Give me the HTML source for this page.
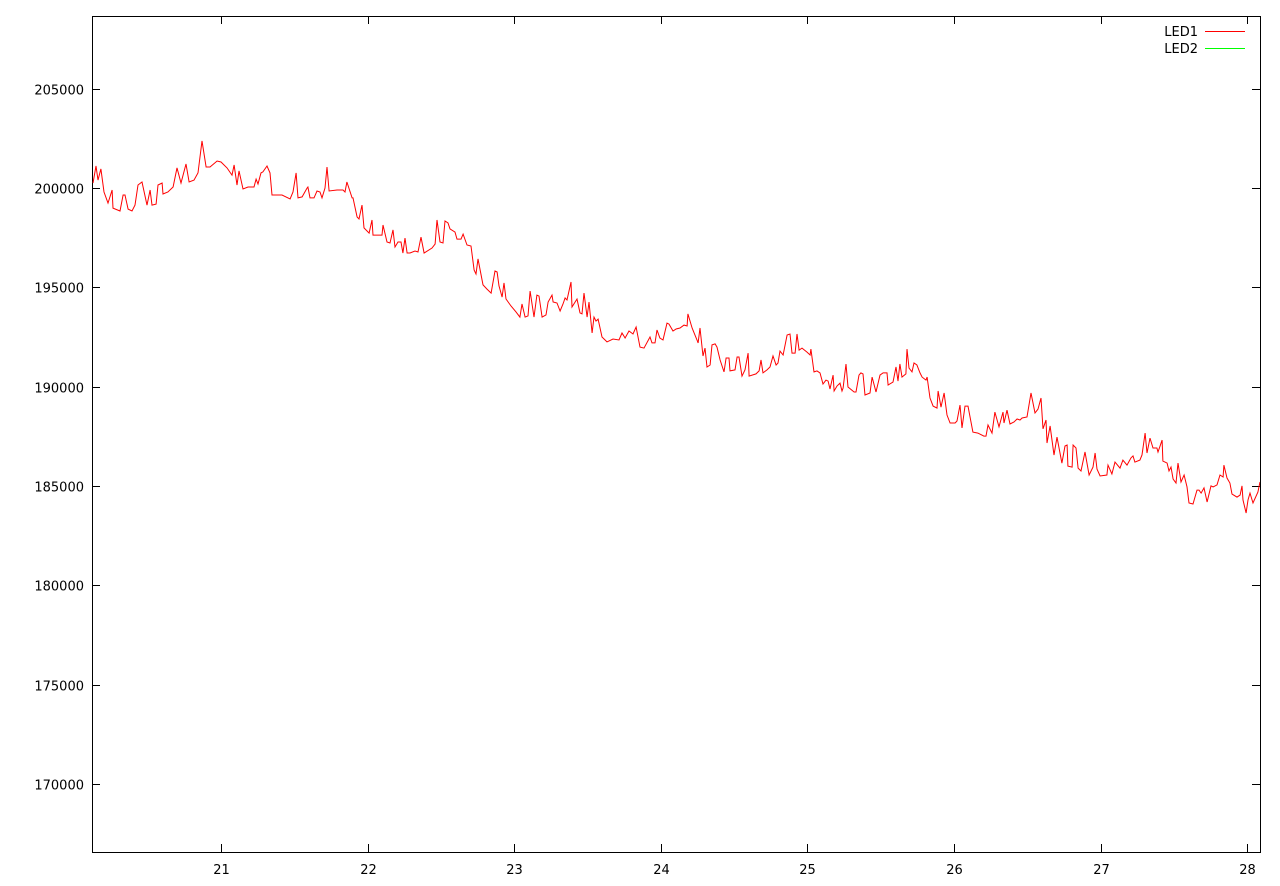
<!DOCTYPE html>
<html><head><meta charset="utf-8"><style>
html,body{margin:0;padding:0;background:#fff;}
svg{display:block;font-family:"DejaVu Sans","Liberation Sans",sans-serif;font-size:13px;}
</style></head><body>
<svg id="chart" width="1280" height="886" viewBox="0 0 1280 886" xmlns="http://www.w3.org/2000/svg">
<defs><clipPath id="clip"><rect x="92" y="16" width="1168" height="836"/></clipPath></defs>
<rect x="92.5" y="16.5" width="1168" height="836" fill="none" stroke="#000" stroke-width="1"/>
<g id="axes"></g>
<g id="series" clip-path="url(#clip)"></g>
<g>
<text x="1198" y="36" text-anchor="end">LED1</text>
<line x1="1205" y1="31.5" x2="1245" y2="31.5" stroke="#ff0000" stroke-width="1"/>
<text x="1198" y="53" text-anchor="end">LED2</text>
<line x1="1205" y1="48.5" x2="1245" y2="48.5" stroke="#00ff00" stroke-width="1"/>
</g>
</svg>
<script>
const xTicks = [21,22,23,24,25,26,27,28];
const yTicks = [170000,175000,180000,185000,190000,195000,200000,205000];
const led1Days = [20.127,20.147,20.161,20.181,20.202,20.229,20.257,20.263,20.311,20.332,20.345,20.366,20.393,20.413,20.434,20.461,20.495,20.516,20.529,20.557,20.570,20.598,20.604,20.638,20.673,20.700,20.727,20.761,20.782,20.816,20.843,20.870,20.898,20.925,20.973,21.000,21.041,21.075,21.089,21.109,21.123,21.150,21.184,21.225,21.239,21.252,21.273,21.286,21.314,21.334,21.348,21.416,21.471,21.491,21.512,21.525,21.553,21.587,21.593,21.607,21.634,21.655,21.675,21.689,21.709,21.723,21.737,21.791,21.832,21.846,21.859,21.894,21.900,21.928,21.941,21.962,21.975,22.010,22.030,22.037,22.098,22.105,
22.132,22.153,22.173,22.187,22.207,22.228,22.241,22.255,22.269,22.289,22.323,22.344,22.364,22.385,22.439,22.460,22.473,22.494,22.514,22.528,22.548,22.562,22.596,22.610,22.637,22.651,22.678,22.705,22.726,22.739,22.753,22.787,22.814,22.842,22.869,22.883,22.896,22.917,22.930,22.944,22.978,23.012,23.039,23.053,23.074,23.094,23.108,23.135,23.155,23.169,23.190,23.217,23.231,23.258,23.265,23.292,23.313,23.333,23.347,23.360,23.387,23.394,23.428,23.449,23.462,23.476,23.497,23.510,23.531,23.544,23.558,23.572,23.599,23.633,23.674,23.715,23.735,23.756,23.783,23.810,23.831,23.858,23.885,23.926,23.940,23.960,23.974,23.994,24.015,24.042,24.056,24.083,
24.104,24.131,24.158,24.179,24.185,24.213,24.247,24.254,24.267,24.288,24.301,24.315,24.336,24.349,24.370,24.383,24.404,24.431,24.445,24.465,24.472,24.506,24.520,24.533,24.554,24.574,24.595,24.602,24.649,24.670,24.683,24.697,24.724,24.745,24.765,24.786,24.799,24.813,24.834,24.861,24.881,24.895,24.916,24.929,24.943,24.963,24.997,25.018,25.024,25.045,25.065,25.086,25.106,25.127,25.141,25.154,25.175,25.182,25.202,25.222,25.236,25.243,25.263,25.277,25.318,25.331,25.352,25.365,25.379,25.393,25.427,25.441,25.468,25.495,25.516,25.543,25.550,25.584,25.604,25.618,25.631,25.645,25.672,25.679,25.693,25.713,25.727,25.747,25.768,25.782,25.809,25.816,25.836,25.857,25.884,25.891,25.911,25.932,25.952,25.973,26.007,26.020,
26.041,26.054,26.075,26.095,26.129,26.163,26.204,26.218,26.232,26.259,26.279,26.307,26.334,26.341,26.361,26.382,26.409,26.430,26.450,26.464,26.498,26.525,26.552,26.573,26.593,26.607,26.627,26.634,26.655,26.682,26.702,26.736,26.757,26.771,26.777,26.805,26.812,26.832,26.846,26.866,26.893,26.921,26.948,26.962,26.975,26.996,27.043,27.050,27.077,27.098,27.132,27.152,27.180,27.207,27.221,27.234,27.268,27.282,27.303,27.316,27.337,27.357,27.384,27.391,27.419,27.425,27.453,27.466,27.480,27.494,27.514,27.528,27.548,27.569,27.589,27.603,27.630,27.657,27.671,27.685,27.705,27.726,27.753,27.767,27.794,27.814,27.835,27.841,27.862,27.882,27.896,27.930,27.951,27.964,27.971,27.992,28.005,28.019,28.039,28.073,28.087];
const led1Values = [200250,201110,200400,200960,199800,199240,199900,198990,198840,199650,199650,198940,198840,199140,200150,200300,199140,199900,199140,199190,200150,200250,199700,199800,200050,201010,200250,201210,200300,200400,200760,202370,201060,201060,201360,201310,201010,200650,201160,200150,200860,199950,200050,200050,200450,200200,200760,200810,201110,200760,199650,199650,199450,199800,200760,199500,199550,200000,200050,199500,199500,199850,199800,199500,200000,201060,199850,199900,199900,199800,200300,199500,199500,198540,198440,199140,197990,197730,198390,197630,197630,198140,
197280,197230,197890,197030,197280,197280,196730,197480,196730,196730,196830,196780,197530,196730,196980,197180,198390,197280,197230,198340,198240,197940,197780,197430,197430,197680,197130,197080,195870,195670,196430,195120,194910,194710,195820,195770,195070,194510,195220,194410,194060,193760,193500,194160,193500,193560,194810,193500,194610,194560,193500,193610,194260,194610,194260,194210,193810,194160,194460,194360,195270,194010,194410,193710,193660,194710,193500,194260,192700,193500,193300,193400,192500,192250,192400,192350,192700,192450,192800,192650,193000,191990,191940,192500,192200,192200,192850,192450,192350,193200,193150,192800,
192900,192950,193100,193050,193660,192950,192350,192200,192950,191540,191940,190990,191090,192100,192150,191990,191340,190740,191440,191440,190790,190840,191490,191490,190530,190840,191690,190530,190640,190790,191340,190690,190840,190990,191540,191090,191190,191790,191590,192600,192650,191690,191690,192650,191840,191940,191740,191590,191890,190740,190790,190690,190130,190330,190280,189880,190580,189780,190030,190180,189780,189930,191140,189980,189730,189730,190580,190690,190640,189580,189680,190480,189730,190580,190690,190690,190080,190230,190990,190280,191140,190480,190640,191890,190940,190740,191190,191090,190690,190480,190330,190480,189430,189020,188920,189780,188970,189680,188570,188170,188170,188270,
189070,187920,189020,189020,187710,187660,187510,187510,188070,187660,188720,187970,188720,188170,188820,188120,188220,188370,188320,188420,188470,189680,188670,188870,189430,187870,188320,187160,188020,186560,187460,186150,187010,187060,186000,185950,187060,186910,185900,185750,186710,185550,185950,186660,185850,185500,185550,186050,185600,186200,185900,186300,186050,186410,186510,186200,186300,186560,187660,186660,187410,186910,186910,186710,187310,186250,186150,185750,185950,185350,185150,186150,185200,185550,184950,184140,184090,184790,184790,184640,184900,184190,185000,184950,185050,185550,185450,186050,185400,185150,184590,184440,184540,185000,184290,183640,184290,184640,184140,184690,185200];

const X0=92, X1=1260, Y0=852, Y1=16;
const xMin=20.120, xMax=28.087, yMin=166570, yMax=208660;
function xs(v){return X0+(v-xMin)/(xMax-xMin)*(X1-X0);}
function ys(v){return Y0-(v-yMin)/(yMax-yMin)*(Y0-Y1);}
const NS="http://www.w3.org/2000/svg";
const axes=document.getElementById('axes');
function mk(tag,attrs,parent){const e=document.createElementNS(NS,tag);for(const k in attrs)e.setAttribute(k,attrs[k]);parent.appendChild(e);return e;}
yTicks.forEach(function(t){
  const y=Math.round(ys(t))+0.5;
  const l1=mk('line',{x1:92,y1:y,x2:100,y2:y,stroke:'#000'},axes);
  
  
  const l2=mk('line',{x1:1252,y1:y,x2:1260,y2:y,stroke:'#000'},axes);
  
  
  const tx=mk('text',{x:84,y:y+5,'text-anchor':'end'},axes);
  tx.textContent=t;
  
  
});
xTicks.forEach(function(t){
  const x=Math.round(xs(t))+0.5;
  const l1=mk('line',{x1:x,y1:852,x2:x,y2:844,stroke:'#000'},axes);
  
  
  const l2=mk('line',{x1:x,y1:16,x2:x,y2:24,stroke:'#000'},axes);
  
  
  const tx=mk('text',{x:x,y:874,'text-anchor':'middle'},axes);
  tx.textContent=t;
  
  
});
const pts=led1Days.map(function(d,i){return xs(d).toFixed(1)+','+ys(led1Values[i]).toFixed(1);}).join(' ');
const line=mk('polyline',{points:pts,fill:'none',stroke:'#ff0000','stroke-width':1,'stroke-linejoin':'miter'},document.getElementById('series'));


</script>
</body></html>
